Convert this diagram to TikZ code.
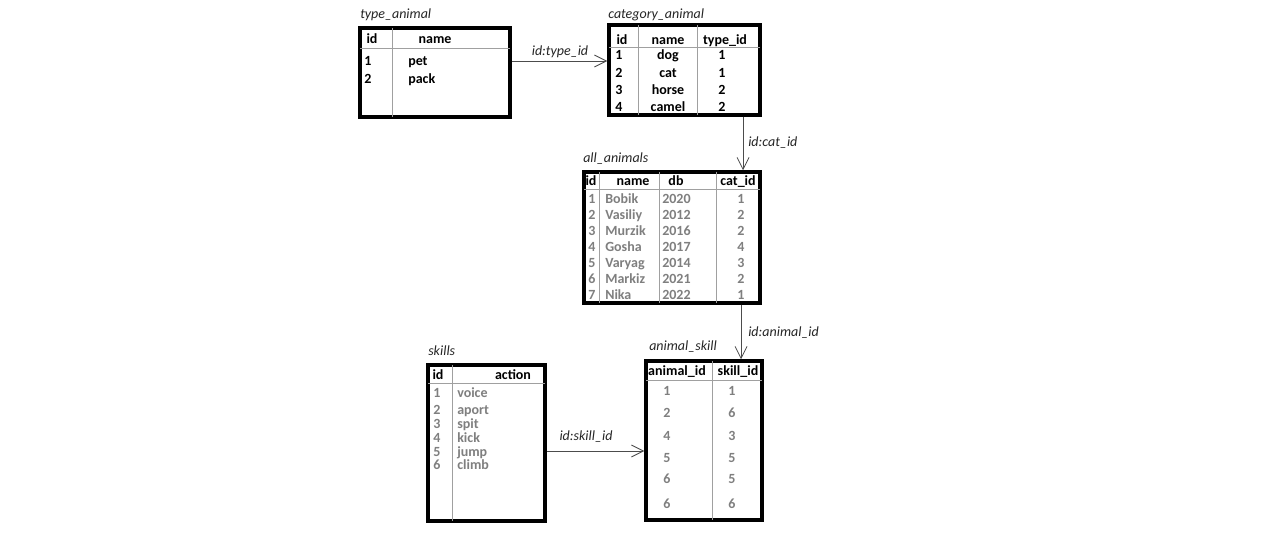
\documentclass[tikz,border=0pt]{standalone}
\usepackage{fontspec}
\setmainfont{Carlito}
\usetikzlibrary{arrows.meta,fit}
\definecolor{datagray}{HTML}{7F7F7F}
\definecolor{rulegray}{HTML}{A0A0A0}
\begin{document}
\begin{tikzpicture}[x=0.75pt,y=-0.75pt,
 tbl/.style={draw=black, line width=2.6pt, inner sep=0pt, fill=white},
 tcap/.style={font=\fontsize{10.5}{12}\selectfont\itshape, text=black!85, anchor=west, inner sep=0pt, yshift=-0.8pt},
 hd/.style={font=\fontsize{10.5}{12}\selectfont\bfseries, inner sep=0pt, text height=1.5ex, text depth=.25ex, yshift=-0.8pt},
 bk/.style={hd},
 gr/.style={hd, text=datagray},
 rl/.style={draw=rulegray, line width=0.6pt, shorten >=1.3pt, shorten <=1.3pt},
 arr/.style={draw=black!70, line width=0.6pt, -{Straight Barb[length=9pt,width=9pt]}},
 lab/.style={font=\fontsize{10.5}{12}\selectfont\itshape, inner sep=0pt, text=black!85, yshift=-0.8pt}]
\useasboundingbox[fill=white] (0,0) rectangle (1280,552);

% ---------- type_animal ----------
\coordinate (ta-a) at (360,28); \coordinate (ta-b) at (510,117);
\node[tbl, fit=(ta-a)(ta-b)] (ta) {};
\node[tcap] (ta-cap) at (360,14) {type\_animal};
\draw[rl] (ta.west |- 0,48) -- (ta.east |- 0,48);
\draw[rl] (392,0 |- ta.north) -- (392,0 |- ta.south);
\node[bk] (ta-h1) at (372,38) {id};
\node[bk] (ta-h2) at (435,38) {name};
\node[bk, anchor=west] (ta-i1) at (364,60) {1};
\node[bk, anchor=west] (ta-n1) at (408,60) {pet};
\node[bk, anchor=west] (ta-i2) at (364,78) {2};
\node[bk, anchor=west] (ta-n2) at (408,78) {pack};

% ---------- category_animal ----------
\coordinate (ca-a) at (609,25); \coordinate (ca-b) at (760,115);
\node[tbl, fit=(ca-a)(ca-b)] (ca) {};
\node[tcap] (ca-cap) at (608,14) {category\_animal};
\draw[rl] (ca.west |- 0,47) -- (ca.east |- 0,47);
\draw[rl] (638,0 |- ca.north) -- (638,0 |- ca.south);
\draw[rl] (697,0 |- ca.north) -- (697,0 |- ca.south);
\node[bk] (ca-h1) at (622,39) {id};
\node[bk] (ca-h2) at (668,39) {name};
\node[bk] (ca-h3) at (725,39) {type\_id};
\foreach \n/\t/\y [count=\i] in {dog/1/54, cat/1/72, horse/2/89, camel/2/106} {
  \node[bk, anchor=west] (ca-i\i) at (615,\y) {\i};
  \node[bk] (ca-n\i) at (668,\y) {\n};
  \node[bk] (ca-t\i) at (722,\y) {\t};
}

% ---------- all_animals ----------
\coordinate (aa-a) at (584,172); \coordinate (aa-b) at (760,303);
\node[tbl, fit=(aa-a)(aa-b)] (aa) {};
\node[tcap] (aa-cap) at (583,158) {all\_animals};
\draw[rl] (aa.west |- 0,189) -- (aa.east |- 0,189);
\draw[rl] (599,0 |- aa.north) -- (599,0 |- aa.south);
\draw[rl] (659,0 |- aa.north) -- (659,0 |- aa.south);
\draw[rl] (716,0 |- aa.north) -- (716,0 |- aa.south);
\node[bk] (aa-h1) at (591,180) {id};
\node[bk] (aa-h2) at (633,180) {name};
\node[bk] (aa-h3) at (676,180) {db};
\node[bk] (aa-h4) at (738,180) {cat\_id};
\foreach \n/\d/\c [count=\i] in {Bobik/2020/1, Vasiliy/2012/2, Murzik/2016/2, Gosha/2017/4, Varyag/2014/3, Markiz/2021/2, Nika/2022/1} {
  \pgfmathsetmacro{\yy}{198+16*(\i-1)}
  \node[gr] (aa-i\i) at (592,\yy) {\i};
  \node[gr, anchor=west] (aa-n\i) at (605,\yy) {\n};
  \node[gr, anchor=west] (aa-d\i) at (662,\yy) {\d};
  \node[gr] (aa-c\i) at (741,\yy) {\c};
}

% ---------- skills ----------
\coordinate (sk-a) at (428,365); \coordinate (sk-b) at (545,521);
\node[tbl, fit=(sk-a)(sk-b)] (sk) {};
\node[tcap] (sk-cap) at (428,350) {skills};
\draw[rl] (sk.west |- 0,383) -- (sk.east |- 0,383);
\draw[rl] (452,0 |- sk.north) -- (452,0 |- sk.south);
\node[bk] (sk-h1) at (438,374) {id};
\node[bk] (sk-h2) at (513,374) {action};
\foreach \a/\y [count=\i] in {voice/392, aport/409, spit/423, kick/437, jump/451, climb/464} {
  \node[gr, anchor=west] (sk-i\i) at (433,\y) {\i};
  \node[gr, anchor=west] (sk-a\i) at (457,\y) {\a};
}

% ---------- animal_skill ----------
\coordinate (as-a) at (646,361); \coordinate (as-b) at (762,520);
\node[tbl, fit=(as-a)(as-b)] (as) {};
\node[tcap] (as-cap) at (649,346) {animal\_skill};
\draw[rl] (as.west |- 0,380) -- (as.east |- 0,380);
\draw[rl] (712,0 |- as.north) -- (712,0 |- as.south);
\node[bk] (as-h1) at (677,370) {animal\_id};
\node[bk] (as-h2) at (738,370) {skill\_id};
\foreach \p/\q/\y [count=\i] in {1/1/390, 2/6/412, 4/3/435, 5/5/457, 6/5/478, 6/6/503} {
  \node[gr] (as-p\i) at (667,\y) {\p};
  \node[gr] (as-q\i) at (732,\y) {\q};
}

% ---------- connectors ----------
\draw[arr] (ta.east |- 0,61) -- (ca.west |- 0,61);
\node[lab] (l1) at (560,51) {id:type\_id};
\draw[arr] (ca.south -| 743,0) -- (aa.north -| 743,0);
\node[lab, anchor=west] (l2) at (748,142) {id:cat\_id};
\draw[arr] (aa.south -| 741,0) -- (as.north -| 741,0);
\node[lab, anchor=west] (l3) at (748,332) {id:animal\_id};
\draw[arr] (sk.east |- 0,451) -- (as.west |- 0,451);
\node[lab] (l4) at (586,436) {id:skill\_id};
\end{tikzpicture}
\end{document}
